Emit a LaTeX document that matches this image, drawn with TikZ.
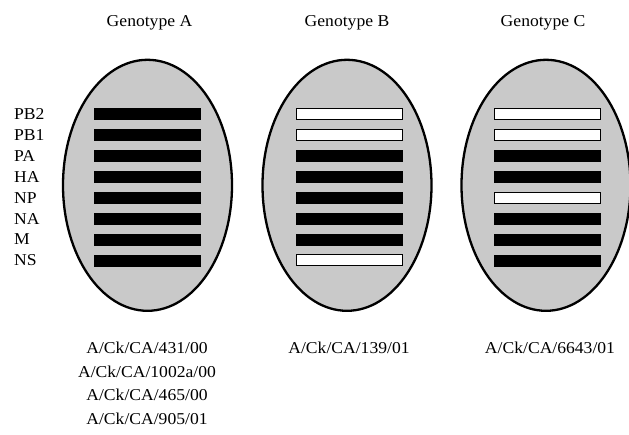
\documentclass[tikz,border=0pt]{standalone}
\usepackage{fontspec}
\setmainfont[FakeStretch=1.06]{Liberation Serif}
\usetikzlibrary{shapes.geometric}
\begin{document}
\begin{tikzpicture}[x=1pt,y=-1pt,
  virion/.style={ellipse, draw=black, line width=2.3pt, fill=black!21, minimum width=169pt, minimum height=251pt, inner sep=0pt},
  segfull/.style={rectangle, fill=black, draw=black, line width=0.6pt, minimum width=106pt, minimum height=11pt, inner sep=0pt},
  segempty/.style={rectangle, fill=white, draw=black, line width=0.8pt, minimum width=106pt, minimum height=11pt, inner sep=0pt},
  lbl/.style={font=\fontsize{16.6}{18}\selectfont, inner sep=0pt},
]
\useasboundingbox (0,0) rectangle (629,434);
% titles
\node[lbl, anchor=base] (tA) at (149.5,26) {Genotype A};
\node[lbl, anchor=base] (tB) at (347,26) {Genotype B};
\node[lbl, anchor=base] (tC) at (543,26) {Genotype C};
% ellipses
\node[virion] (eA) at (147.5,185.3) {};
\node[virion] (eB) at (347,185.3) {};
\node[virion] (eC) at (546,185.3) {};
% segment labels
\foreach \n [count=\i from 0] in {PB2,PB1,PA,HA,NP,NA,M,NS} {
  \node[lbl, anchor=base west] (l\i) at (14,{119.5+20.9*\i}) {\n};
}
% genotype A
\foreach \i in {0,...,7} {
  \node[segfull] (a\i) at (147.5,{114+20.9*\i}) {};
}
% genotype B
\foreach \s [count=\i from 0] in {segempty,segempty,segfull,segfull,segfull,segfull,segfull,segempty} {
  \node[\s] (b\i) at (349,{114+20.9*\i}) {};
}
% genotype C
\foreach \s [count=\i from 0] in {segempty,segempty,segfull,segfull,segempty,segfull,segfull,segfull} {
  \node[\s] (c\i) at (547.5,{114+20.9*\i}) {};
}
% strains
\node[lbl, anchor=base] (sA1) at (147,353.3) {A/Ck/CA/431/00};
\node[lbl, anchor=base] (sA2) at (147,377) {A/Ck/CA/1002a/00};
\node[lbl, anchor=base] (sA3) at (147,400.5) {A/Ck/CA/465/00};
\node[lbl, anchor=base] (sA4) at (147,424) {A/Ck/CA/905/01};
\node[lbl, anchor=base] (sB1) at (349,353.3) {A/Ck/CA/139/01};
\node[lbl, anchor=base] (sC1) at (550,353.3) {A/Ck/CA/6643/01};
\end{tikzpicture}
\end{document}
